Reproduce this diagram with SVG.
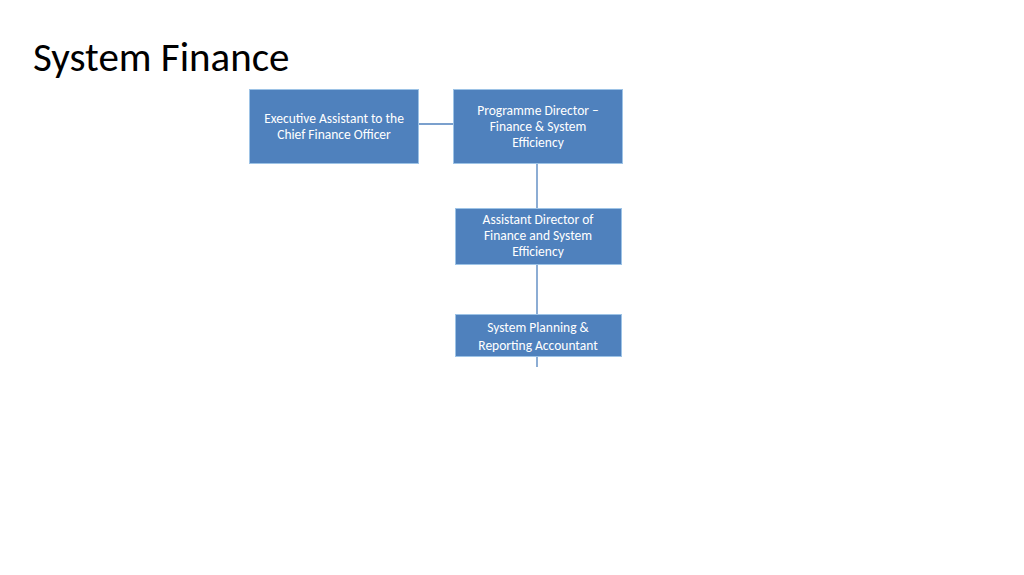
<svg xmlns="http://www.w3.org/2000/svg" width="1024" height="575" viewBox="0 0 1024 575">
<style>
.box{fill:#4F81BD;stroke:#9DC3E6;stroke-width:1}
.t{font-family:Carlito,Lato,"Open Sans",sans-serif;font-size:13.5px;fill:#fff;text-anchor:middle}
.c{stroke:#4F81BD;stroke-width:1.3;fill:none}
</style>
<rect width="1024" height="575" fill="#fff"/>
<text x="33" y="71" font-family="Carlito,Lato,'Open Sans',sans-serif" font-size="41" fill="#000">System Finance</text>
<g id="connectors">
<line class="c" x1="418" y1="124" x2="453" y2="124"/>
<line class="c" x1="537" y1="163" x2="537" y2="367"/>
</g>
<g id="ea"><rect class="box" x="249.5" y="89.5" width="169" height="74"/>
<text class="t" x="334" y="123">Executive Assistant to the</text><text class="t" x="334" y="139">Chief Finance Officer</text></g>
<g id="pd"><rect class="box" x="453.5" y="89.5" width="169" height="74"/>
<text class="t" x="538" y="115">Programme Director –</text><text class="t" x="538" y="131">Finance &amp; System</text><text class="t" x="538" y="147">Efficiency</text></g>
<g id="ad"><rect class="box" x="455.5" y="208.5" width="166" height="56"/>
<text class="t" x="538" y="224">Assistant Director of</text><text class="t" x="538" y="240">Finance and System</text><text class="t" x="538" y="256">Efficiency</text></g>
<g id="sp"><rect class="box" x="455.5" y="314.5" width="166" height="42"/>
<text class="t" x="538" y="332">System Planning &amp;</text><text class="t" x="538" y="350">Reporting Accountant</text></g>
</svg>
